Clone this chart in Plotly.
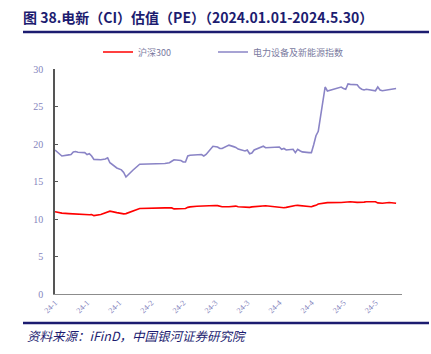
import pandas as pd
import plotly.graph_objects as go

# trading days 2024-01-02 .. 2024-05-30 (China A-share calendar)
holidays = ["2024-02-09", "2024-02-12", "2024-02-13", "2024-02-14", "2024-02-15",
            "2024-02-16", "2024-04-04", "2024-04-05", "2024-05-01", "2024-05-02", "2024-05-03"]
dates = [d for d in pd.bdate_range("2024-01-02", "2024-05-30") if d.strftime("%Y-%m-%d") not in holidays]

hs300 = [10.97, 10.9, 10.85, 10.78, 10.72, 10.7, 10.68, 10.7, 10.67, 10.6, 10.53, 10.56, 10.6, 10.45,
         10.6, 10.7, 10.8, 11.0, 11.05, 10.85, 10.78, 10.72,
         10.68, 10.72, 11.05, 11.15, 11.25, 11.4, 11.48, 11.5, 11.5, 11.48, 11.35, 11.35, 11.45, 11.4, 11.55,
         11.62, 11.7, 11.72, 11.78, 11.75, 11.82, 11.82, 11.8, 11.78, 11.68, 11.64, 11.64, 11.7, 11.74, 11.72,
         11.64, 11.55, 11.52, 11.55, 11.62, 11.66,
         11.76, 11.78, 11.77, 11.6, 11.55, 11.52, 11.5, 11.55, 11.78, 11.8, 11.82, 11.8, 11.78, 11.68, 11.64,
         11.75, 11.82, 12.0, 12.18, 12.18,
         12.2, 12.22, 12.28, 12.31, 12.3, 12.22, 12.2, 12.2, 12.25, 12.3, 12.3, 12.3, 12.15, 12.09, 12.1,
         12.2, 12.18, 12.12, 12.09]

power_ne = [19.2, 18.9, 18.6, 18.4, 18.55, 18.6, 18.95, 19.0, 18.9, 18.85, 18.6, 18.7, 18.4, 17.95,
            17.9, 17.9, 18.0, 18.15, 17.5, 16.8, 16.7, 16.55,
            16.2, 15.6, 16.5, 16.8, 17.1, 17.3, 17.4, 17.4, 17.5, 17.7, 17.9, 17.8, 17.6, 17.6, 18.4,
            18.5, 18.55, 18.5, 18.6, 18.4, 18.6, 19.7, 19.65, 19.6, 19.4, 19.4, 19.85, 19.7, 19.65, 19.55,
            19.33, 19.07, 19.2, 18.7, 18.8, 19.2,
            19.6, 19.7, 19.5, 19.5, 19.6, 19.3, 19.4, 19.2, 19.3, 18.85, 19.3, 19.1, 18.95, 18.85, 18.85,
            19.9, 21.1, 21.7, 27.6, 27.07,
            27.6, 27.4, 27.3, 28.0, 27.95, 27.9, 27.5, 27.3, 27.2, 27.3, 27.1, 27.1, 27.6, 27.2, 27.1,
            27.2, 27.25, 27.3, 27.4]

tick_vals = ["2024-01-02", "2024-01-16", "2024-01-30", "2024-02-13", "2024-02-27", "2024-03-12",
             "2024-03-26", "2024-04-09", "2024-04-23", "2024-05-07", "2024-05-21"]
tick_text = ["24-1", "24-1", "24-1", "24-2", "24-2", "24-3", "24-3", "24-4", "24-4", "24-5", "24-5"]

title_text = "图 38.电新（CI）估值（PE）（2024.01.01-2024.5.30）"
source_text = "资料来源：iFinD，中国银河证券研究院"

navy = "#1c1c70"
tick_color = "#8585bd"
legend_font = dict(size=9, color="#7a7aa0", family="Noto Sans CJK SC")

fig = go.Figure()
fig.add_trace(go.Scatter(x=dates, y=hs300, mode="lines", name="沪深300", legend="legend",
                         line=dict(color="#ff0000", width=1.6)))
fig.add_trace(go.Scatter(x=dates, y=power_ne, mode="lines", name="电力设备及新能源指数", legend="legend2",
                         line=dict(color="#8a84c6", width=1.6)))

leg_y = (294 - 52) / 225
fig.update_layout(
    width=431, height=354,
    margin=dict(l=55, r=29, t=69, b=60),
    paper_bgcolor="white", plot_bgcolor="white",
    showlegend=True,
    legend=dict(orientation="h", x=(98 - 55) / 347, y=leg_y, xanchor="left", yanchor="middle",
                font=legend_font, itemwidth=30, bgcolor="rgba(0,0,0,0)"),
    legend2=dict(orientation="h", x=(213 - 55) / 347, y=leg_y, xanchor="left", yanchor="middle",
                 font=legend_font, itemwidth=30, bgcolor="rgba(0,0,0,0)"),
    title=dict(text=title_text, x=23 / 431, xref="container", xanchor="left",
               y=1 - 18 / 354, yref="container", yanchor="middle",
               font=dict(size=14, color=navy, family="Noto Sans CJK SC", weight="bold")),
    xaxis=dict(type="date", range=["2024-01-02", "2024-06-01 14:00"],
               tickmode="array", tickvals=tick_vals, ticktext=tick_text, tickangle=-45,
               tickfont=dict(size=8, color=tick_color, family="Liberation Serif"),
               showgrid=False, zeroline=False, showline=True, linecolor="#8c8c8c", linewidth=1,
               ticks=""),
    yaxis=dict(range=[0, 30], tickvals=[0, 5, 10, 15, 20, 25, 30],
               tickfont=dict(size=10, color=tick_color, family="Liberation Serif"),
               showgrid=False, zeroline=False, showline=True, linecolor="#555555", linewidth=1.5,
               ticks="inside", ticklen=3, tickcolor="#555555", ticklabelstandoff=8),
    shapes=[
        dict(type="line", xref="paper", yref="paper", x0=(23 - 55) / 347, x1=(429 - 55) / 347,
             y0=(294 - 32) / 225, y1=(294 - 32) / 225, line=dict(color=navy, width=2.5)),
        dict(type="line", xref="paper", yref="paper", x0=(23 - 55) / 347, x1=(429 - 55) / 347,
             y0=(294 - 323) / 225, y1=(294 - 323) / 225, line=dict(color=navy, width=2.5)),
    ],
    annotations=[
        dict(text=source_text, xref="paper", yref="paper", x=(25 - 55) / 347, y=(294 - 335) / 225,
             xanchor="left", yanchor="middle", showarrow=False,
             font=dict(size=12.5, color=navy, family="Noto Sans CJK SC", style="italic")),
    ],
)

fig.write_html("out.html")
